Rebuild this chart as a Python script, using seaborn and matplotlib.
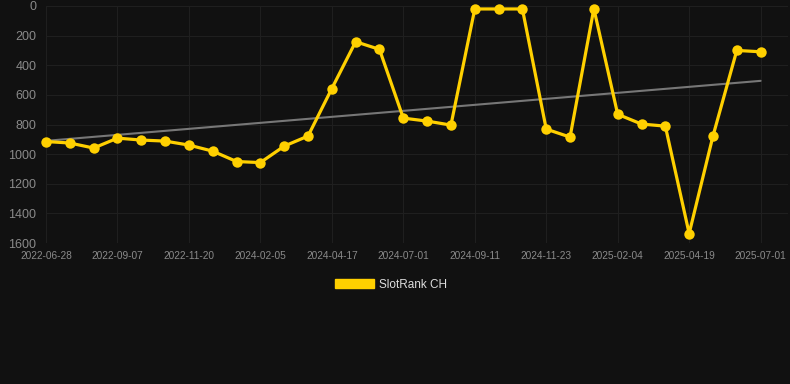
import numpy as np
import pandas as pd
import matplotlib
matplotlib.use("Agg")
import matplotlib.pyplot as plt
import seaborn as sns
from matplotlib.patches import Patch

# Rank values (31 evenly spaced snapshots)
ranks = [915, 925, 959, 892, 905, 912, 939, 980, 1050, 1057, 946, 878, 557, 241, 293,
         757, 777, 804, 20, 20, 20, 831, 885, 18, 731, 797, 811, 1536, 878, 300, 309]
tick_labels = ["2022-06-28", "2022-09-07", "2022-11-20", "2024-02-05", "2024-04-17",
               "2024-07-01", "2024-09-11", "2024-11-23", "2025-02-04", "2025-04-19",
               "2025-07-01"]
y_ticks = [0, 200, 400, 600, 800, 1000, 1200, 1400, 1600]

df = pd.DataFrame({"idx": np.arange(len(ranks)), "rank": ranks})

# Linear trend over the series
slope, intercept = np.polyfit(df["idx"], df["rank"], 1)
df["trend"] = slope * df["idx"] + intercept

sns.set_style("dark")
plt.rcParams["font.family"] = ["Liberation Sans", "DejaVu Sans"]

bg = "#111111"
fig = plt.figure(figsize=(7.9, 3.84), dpi=100, facecolor=bg)
ax = fig.add_axes([46 / 790, 1 - 243 / 384, (788 - 46) / 790, 237 / 384])
ax.set_facecolor(bg)

sns.lineplot(x="idx", y="trend", data=df, ax=ax, color="#777777", linewidth=1.5)
sns.lineplot(x="idx", y="rank", data=df, ax=ax, color="#ffd000", linewidth=2.3,
             marker="o", markersize=7.5, markeredgewidth=0, markerfacecolor="#ffd000")
for line in ax.lines:
    line.set_clip_on(False)

ax.set_ylim(1600, 0)
ax.set_xlim(0, 31.15)
ax.set_yticks(y_ticks)
ax.set_yticklabels([str(t) for t in y_ticks])
ax.set_xticks(np.arange(0, len(ranks), 3))
ax.set_xticklabels(tick_labels)
ax.tick_params(axis="y", colors="#8a8a8a", labelsize=9, length=0, pad=7)
ax.tick_params(axis="x", colors="#8a8a8a", labelsize=7.3, length=0, pad=6)
ax.grid(True, color="#1f1f1f", linewidth=0.8)
ax.set_axisbelow(True)
for s in ax.spines.values():
    s.set_visible(False)
ax.set_xlabel("")
ax.set_ylabel("")

handle = Patch(facecolor="#ffd000", edgecolor="#ffd000")
fig.legend(handles=[handle], labels=["SlotRank CH"], loc="center",
           bbox_to_anchor=(0.495, 1 - 284.5 / 384), frameon=False,
           handlelength=3.3, handleheight=0.9, handletextpad=0.5,
           labelcolor="#dddddd", fontsize=8.5)

fig.savefig("out.png", dpi=100, facecolor=bg)
